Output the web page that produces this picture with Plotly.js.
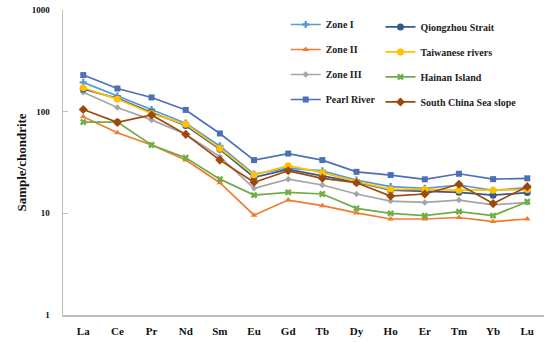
<!DOCTYPE html>
<html>
<head>
<meta charset="utf-8">
<script src="https://cdn.plot.ly/plotly-3.0.1.min.js"></script>
<style>html,body{margin:0;padding:0;background:#fff;}#chart{width:550px;height:343px;}</style>
</head>
<body>
<div id="chart"></div>
<script>
const categories = ['La','Ce','Pr','Nd','Sm','Eu','Gd','Tb','Dy','Ho','Er','Tm','Yb','Lu'];
const zoneI     = [194, 142, 105, 77, 46, 24.3, 27.8, 26.2, 21.2, 18.3, 17.6, 19.0, 16.8, 17.9];
const zoneII    = [89, 62, 47, 33.4, 20, 9.6, 13.5, 11.9, 10.1, 8.8, 8.8, 9.1, 8.3, 8.8];
const zoneIII   = [155, 110, 83, 60, 36, 17.6, 21.7, 19.0, 15.5, 13.2, 12.8, 13.5, 12.1, 12.8];
const pearl     = [229, 169, 138, 104, 61, 33.4, 38.7, 33.4, 25.6, 23.8, 21.6, 24.5, 21.7, 22.1];
const qiongzhou = [167, 135, 98, 73, 42.6, 22.6, 27.1, 23.3, 20.2, 16.9, 16.6, 16.1, 15.1, 16.0];
const taiwan    = [172, 133, 96, 75, 43.5, 23.8, 29.4, 25.1, 20.5, 17.2, 17.2, 16.9, 16.9, 17.2];
const hainan    = [79, 79, 47, 35.2, 21.7, 15.1, 16.1, 15.5, 11.2, 10.0, 9.5, 10.4, 9.5, 13.0];
const scsSlope  = [105, 78.5, 92.7, 59.8, 33.4, 20.2, 26.2, 22.1, 20.0, 14.8, 15.5, 19.3, 12.5, 18.3];
const yTickVals = [1, 10, 100, 1000];
const yTickText = ['1', '10', '100', '1000'];

const serif = 'Liberation Serif, Times New Roman, serif';

function tr(name, y, color, symbol, size, legend, group) {
  return {
    type: 'scatter', mode: 'lines+markers', name: name,
    x: categories, y: y,
    line: {color: color, width: 1.7},
    marker: {color: color, symbol: symbol, size: size, line: {color: color, width: 0}},
    legend: legend, legendgroup: group
  };
}

const data = [
  tr('Zone I', zoneI, '#5B9BD5', 'cross', 6, 'legend', 'a'),
  tr('Zone II', zoneII, '#ED7D31', 'triangle-up', 6, 'legend', 'b'),
  tr('Zone III', zoneIII, '#A5A5A5', 'diamond', 5, 'legend', 'c'),
  tr('Pearl River', pearl, '#4E6FB8', 'square', 6, 'legend', 'd'),
  tr('Qiongzhou Strait', qiongzhou, '#335A8C', 'circle', 7, 'legend2', 'e'),
  tr('Taiwanese rivers', taiwan, '#FFC000', 'circle', 7, 'legend2', 'f'),
  tr('Hainan Island', hainan, '#70AD47', 'x', 6, 'legend2', 'g'),
  tr('South China Sea slope', scsSlope, '#9E480E', 'diamond', 7, 'legend2', 'h')
];

const legendFont = {family: serif, size: 10, color: '#222', weight: 'bold'};

const layout = {
  width: 550, height: 343,
  margin: {l: 63, r: 6, t: 10, b: 28},
  paper_bgcolor: '#fff', plot_bgcolor: '#fff',
  showlegend: true,
  xaxis: {
    type: 'category', range: [-0.593, 13.49],
    showgrid: false, zeroline: false,
    showline: true, linecolor: '#BFBFBF', linewidth: 1.5,
    ticks: '', ticklabelstandoff: 5,
    tickfont: {family: serif, size: 11, color: '#111', weight: 'bold'}
  },
  yaxis: {
    type: 'log', range: [0, 3],
    showgrid: false, zeroline: false,
    showline: true, linecolor: '#BFBFBF', linewidth: 1.5,
    ticks: 'inside', ticklen: 5, tickcolor: '#BFBFBF', tickwidth: 1,
    tickvals: yTickVals, ticktext: yTickText,
    ticklabelstandoff: 10,
    tickfont: {family: serif, size: 9, color: '#111', weight: 'bold'},
    title: {text: 'Sample/chondrite', font: {family: serif, size: 13, color: '#111', weight: 'bold'}, standoff: 2}
  },
  legend: {
    x: 0.463, y: 1.0, xanchor: 'left', yanchor: 'top',
    bgcolor: 'rgba(0,0,0,0)', borderwidth: 0,
    font: legendFont, tracegroupgap: 6, itemwidth: 30
  },
  legend2: {
    x: 0.66, y: 0.992, xanchor: 'left', yanchor: 'top',
    bgcolor: 'rgba(0,0,0,0)', borderwidth: 0,
    font: legendFont, tracegroupgap: 6, itemwidth: 30
  }
};

Plotly.newPlot('chart', data, layout, {displayModeBar: false, staticPlot: true});
</script>
</body>
</html>
